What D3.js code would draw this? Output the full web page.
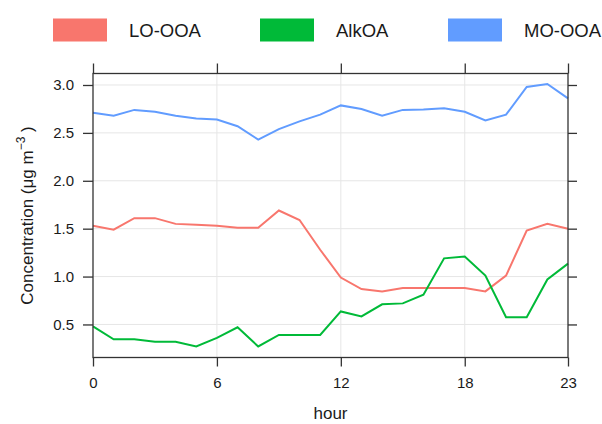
<!DOCTYPE html>
<html lang="en">
<head>
    <meta charset="UTF-8">
    <title>hour</title>
    <script src="https://cdn.jsdelivr.net/npm/d3@7.8.5/dist/d3.min.js"></script>
    <style>
        body { margin: 0; background: #fff; }
        text { font-family: "Liberation Sans", Arial, sans-serif; fill: #1a1a1a; }
    </style>
</head>
<body>
<div id="chart"></div>
<script type="text/javascript">
    // data
    const hours = d3.range(0, 24);
    const loOoa = [1.53, 1.49, 1.61, 1.61, 1.55, 1.54, 1.53, 1.51, 1.51, 1.69, 1.59, 1.28,
        0.99, 0.87, 0.845, 0.88, 0.88, 0.88, 0.88, 0.845, 1.01, 1.48, 1.55, 1.50];
    const alkOa = [0.48, 0.345, 0.345, 0.32, 0.32, 0.27, 0.36, 0.47, 0.27, 0.39, 0.39, 0.39,
        0.636, 0.584, 0.71, 0.72, 0.81, 1.19, 1.21, 1.01, 0.575, 0.575, 0.97, 1.135];
    const moOoa = [2.71, 2.68, 2.74, 2.72, 2.68, 2.65, 2.64, 2.57, 2.43, 2.54, 2.62, 2.69,
        2.787, 2.75, 2.68, 2.74, 2.745, 2.756, 2.72, 2.63, 2.69, 2.98, 3.01, 2.86];
    const seriesNames = ["LO-OOA", "AlkOA", "MO-OOA"];
    const seriesColors = ["#F8766D", "#00BA38", "#619CFF"];
    const xTicks = [0, 6, 12, 18, 23];
    const yTicks = [0.5, 1.0, 1.5, 2.0, 2.5, 3.0];

    const width = 602, height = 424;
    const box = {left: 93, right: 568, top: 73.5, bottom: 357.5};

    const svg = d3.select('#chart').append('svg')
        .attr('width', width).attr('height', height);

    const x = d3.scaleLinear().domain([0, 23]).range([box.left, box.right]);
    const y = d3.scaleLinear().domain([0.155, 3.12]).range([box.bottom, box.top]);

    // grid
    svg.append('g').selectAll('line.h').data(yTicks).join('line')
        .attr('x1', box.left).attr('x2', box.right)
        .attr('y1', d => y(d)).attr('y2', d => y(d))
        .attr('stroke', '#e6e6e6').attr('stroke-width', 1);
    svg.append('g').selectAll('line.v').data(xTicks.slice(1, -1)).join('line')
        .attr('x1', d => x(d)).attr('x2', d => x(d))
        .attr('y1', box.top).attr('y2', box.bottom)
        .attr('stroke', '#e6e6e6').attr('stroke-width', 1);

    // lines
    const series = [loOoa, alkOa, moOoa];
    const line = d3.line().x((d, i) => x(hours[i])).y(d => y(d));
    svg.append('g').selectAll('path').data(series).join('path')
        .attr('d', d => line(d))
        .attr('fill', 'none')
        .attr('stroke', (d, i) => seriesColors[i])
        .attr('stroke-width', 2);

    // axes (lattice style: ticks on all four sides, labels left and bottom)
    const fmt = d3.format('.1f');
    const axisStyle = g => {
        g.select('.domain').remove();
        g.selectAll('.tick line').attr('stroke', '#333').attr('stroke-width', 1.3);
        g.selectAll('.tick text').style('font-size', '15px')
            .style('font-family', '"Liberation Sans", Arial, sans-serif').attr('fill', '#1a1a1a');
    };
    svg.append('g').attr('transform', `translate(0,${box.bottom})`)
        .call(d3.axisBottom(x).tickValues(xTicks).tickSize(9).tickPadding(11))
        .call(axisStyle);
    svg.append('g').attr('transform', `translate(0,${box.top})`)
        .call(d3.axisTop(x).tickValues(xTicks).tickSize(10).tickFormat(''))
        .call(axisStyle);
    svg.append('g').attr('transform', `translate(${box.left},0)`)
        .call(d3.axisLeft(y).tickValues(yTicks).tickFormat(fmt).tickSize(10).tickPadding(9))
        .call(axisStyle);
    svg.append('g').attr('transform', `translate(${box.right},0)`)
        .call(d3.axisRight(y).tickValues(yTicks).tickSize(9).tickFormat(''))
        .call(axisStyle);

    svg.append('rect')
        .attr('x', box.left).attr('y', box.top)
        .attr('width', box.right - box.left).attr('height', box.bottom - box.top)
        .attr('fill', 'none').attr('stroke', '#333').attr('stroke-width', 1.3);

    // axis titles
    svg.append('text').attr('x', (box.left + box.right) / 2).attr('y', 419)
        .attr('text-anchor', 'middle').style('font-size', '17px').text('hour');
    const yt = svg.append('text')
        .attr('transform', `translate(33,${(box.top + box.bottom) / 2}) rotate(-90)`)
        .attr('text-anchor', 'middle').style('font-size', '17px');
    yt.append('tspan').text('Concentration (\u03bcg m');
    yt.append('tspan').attr('dy', -8).style('font-size', '12px').text('\u22123');
    yt.append('tspan').attr('dy', 8).text(' )');

    // legend
    const legendX = [53, 260, 448];
    const leg = svg.append('g').selectAll('g').data(seriesNames).join('g')
        .attr('transform', (d, i) => `translate(${legendX[i]},18.5)`);
    leg.append('rect').attr('width', 54).attr('height', 23)
        .attr('fill', (d, i) => seriesColors[i]);
    leg.append('text').attr('x', 76).attr('y', 18)
        .style('font-size', '18.5px').text(d => d);
</script>
</body>
</html>
